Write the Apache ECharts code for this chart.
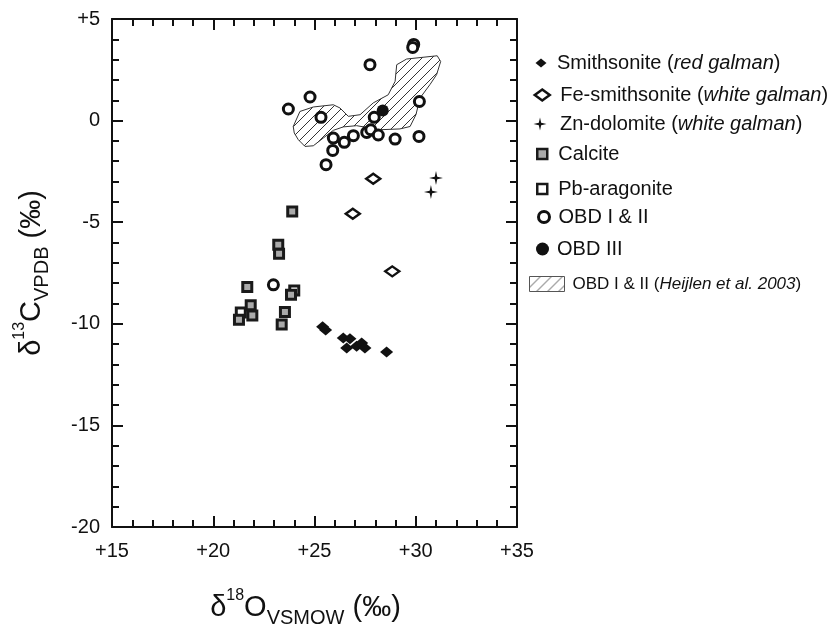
<!DOCTYPE html>
<html><head><meta charset="utf-8">
<script src="https://cdn.jsdelivr.net/npm/echarts@6/dist/echarts.min.js"></script>
<style>html,body{margin:0;padding:0;background:#fff}#c{width:835px;height:628px}</style>
</head><body><div id="c"></div>
<script>
// ---- data (δ18O VSMOW, δ13C VPDB) ----
const smithsonite = [[25.4,-10.15],[25.55,-10.3],[26.42,-10.7],[26.75,-10.73],[26.59,-11.19],[27.08,-11.11],[27.33,-10.94],[27.49,-11.19],[28.56,-11.39]];
const feSmithsonite = [[27.9,-2.86],[26.89,-4.58],[28.84,-7.42]];
const znDolomite = [[31.0,-2.82],[30.75,-3.51]];
const pbAragonite = [[24.0,-8.36],[21.36,-9.44]];
const calcite = [[23.9,-4.47],[23.21,-6.11],[23.25,-6.55],[21.68,-8.19],[21.85,-9.09],[21.93,-9.59],[21.27,-9.8],[23.54,-9.42],[23.38,-10.04],[23.84,-8.57]];
const obd12 = [[29.9,3.75],[29.85,3.6],[27.74,2.75],[24.78,1.16],[23.71,0.57],[25.32,0.16],[30.18,0.94],[27.95,0.16],[25.93,-0.86],[26.92,-0.74],[26.47,-1.07],[27.58,-0.58],[27.78,-0.45],[28.15,-0.71],[28.98,-0.91],[30.16,-0.78],[25.9,-1.47],[25.57,-2.17],[22.97,-8.08]];
const obd3 = [[28.37,0.5]];
const heijlenX = [23.95,24.28,24.94,25.93,26.26,26.67,27.25,27.9,28.64,28.98,29.06,29.55,31.06,31.23,31.03,30.7,30.21,30.01,29.72,29.22,28.23,27.08,26.42,25.93,25.43,24.94,24.53,24.2,24.0];
const heijlenY = [-0.29,0.45,0.67,0.78,0.62,0.21,0.29,0.87,1.27,1.93,2.75,3.03,3.19,2.91,2.26,1.77,1.11,0.29,-0.29,-0.41,-0.45,-0.25,-0.31,-0.48,-0.86,-1.24,-1.27,-0.94,-0.61];
const xTicks = {min:15, max:35, interval:5};
const yTicks = {min:-20, max:5, interval:5};

const FONT = 'Liberation Sans, Arial, Helvetica, sans-serif';
const INK = '#111';

function hatch(size, color){
  const c = document.createElement('canvas'); c.width = size; c.height = size;
  const g = c.getContext('2d'); g.strokeStyle = color; g.lineWidth = 1;
  g.beginPath();
  g.moveTo(0,size); g.lineTo(size,0);
  g.moveTo(-2,2); g.lineTo(2,-2);
  g.moveTo(size-2,size+2); g.lineTo(size+2,size-2);
  g.stroke();
  return c;
}
const hatchFill = {image: hatch(10,'#333'), repeat:'repeat'};
const hatchFillLegend = {image: hatch(11,'#555'), repeat:'repeat'};

const signFmt = v => (v > 0 ? '+' + v : String(v));
const tickLine = {color: INK, width: 2};

function axisBase(extra){
  return Object.assign({
    type:'value',
    axisLine:{show:true, onZero:false, lineStyle:tickLine},
    axisTick:{show:true, inside:true, length:11, lineStyle:tickLine},
    minorTick:{show:true, splitNumber:5, length:7, lineStyle:tickLine},
    splitLine:{show:false}, minorSplitLine:{show:false},
  }, extra);
}

const titleRich = {
  m:{fontSize:29, fontFamily:FONT, color:INK, lineHeight:40},
  sup:{fontSize:16, fontFamily:FONT, color:INK, lineHeight:16, verticalAlign:'top'},
  sub:{fontSize:20, fontFamily:FONT, color:INK, lineHeight:35, verticalAlign:'bottom'}
};

const legendText = {
  fontSize:20, fontFamily:FONT, color:INK, lineHeight:22,
  rich:{ i:{fontSize:20, fontFamily:FONT, color:INK, fontStyle:'italic', lineHeight:22} }
};
function leg(name, left, cy, w, h, pad, bw, extra){
  const item = Object.assign({name:name}, extra || {});
  const fs = (extra && extra.fs) || 20;
  const ts = JSON.parse(JSON.stringify(legendText));
  ts.fontSize = fs; ts.rich.i.fontSize = fs;
  ts.padding = [0,0,0,pad];
  delete item.fs;
  const o = {
    data:[item], orient:'vertical', left:left, top: cy - 11, padding:0,
    itemWidth:w, itemHeight:h, selectedMode:false, textStyle:ts,
    formatter: n => ({
      'Smithsonite':'Smithsonite ({i|red galman})',
      'Fe-smithsonite':'Fe-smithsonite ({i|white galman})',
      'Zn-dolomite':'Zn-dolomite ({i|white galman})',
      'OBD I & II (Heijlen et al. 2003)':'OBD I & II ({i|Heijlen et al. 2003})'
    }[n] || n)
  };
  if (bw != null) o.itemStyle = {borderWidth:bw};
  return o;
}

const chart = echarts.init(document.getElementById('c'), null, {renderer:'canvas'});
chart.setOption({
  animation:false,
  backgroundColor:'#fff',
  grid:{left:112, top:19, width:405, height:508, containLabel:false, outerBoundsMode:'none'},
  xAxis:[
    axisBase(Object.assign({}, xTicks, {position:'bottom',
      axisLabel:{formatter:signFmt, fontSize:20, fontFamily:FONT, color:INK, margin:14},
      name:'{m|δ}{sup|18}{m|O}{sub|VSMOW}{m| (‰)}', nameLocation:'middle', nameGap:61,
      nameTextStyle:{rich:titleRich, padding:[0,18,0,0]}})),
    axisBase(Object.assign({}, xTicks, {position:'top', axisLabel:{show:false}}))
  ],
  yAxis:[
    axisBase(Object.assign({}, yTicks, {position:'left',
      axisLabel:{formatter:signFmt, fontSize:20, fontFamily:FONT, color:INK, margin:12},
      name:'{m|δ}{sup|13}{m|C}{sub|VPDB}{m| (‰)}', nameLocation:'middle', nameGap:60, nameRotate:90,
      nameTextStyle:{rich:titleRich}})),
    axisBase(Object.assign({}, yTicks, {position:'right', axisLabel:{show:false}}))
  ],
  legend:[
    leg('Smithsonite', 535.5, 63, 11, 9, 5.5, null),
    leg('Fe-smithsonite', 533.5, 95, 15, 11, 5.5, 2.5),
    leg('Zn-dolomite', 533.5, 124, 13, 13, 8.5, null),
    leg('Calcite', 536, 154, 10, 10, 6, 2.5),
    leg('Pb-aragonite', 536, 189, 10, 10, 6, 2.5),
    leg('OBD I & II', 537, 217, 11, 11, 4, 3),
    leg('OBD III', 536, 249, 13, 13, 3, null),
    leg('OBD I & II (Heijlen et al. 2003)', 529, 284, 35, 15, 3, null,
        {icon:'rect', fs:17, itemStyle:{color:hatchFillLegend, borderColor:'#555', borderWidth:1}})
  ],
  series:[
    {type:'custom', name:'OBD I & II (Heijlen et al. 2003)', coordinateSystem:'cartesian2d', silent:true, z:1,
     data:[[heijlenX[0], heijlenY[0]]],
     itemStyle:{color:hatchFillLegend},
     renderItem:(params, api) => ({
       type:'polygon',
       shape:{points: heijlenX.map((x,i) => api.coord([x, heijlenY[i]]))},
       style:{fill:hatchFill, stroke:'#333', lineWidth:1}
     })},
    {type:'scatter', name:'Pb-aragonite', data:pbAragonite, symbol:'rect', symbolSize:9, z:3,
     itemStyle:{color:'#fff', borderColor:'#1a1a1a', borderWidth:3, opacity:1}},
    {type:'scatter', name:'Calcite', data:calcite, symbol:'rect', symbolSize:9, z:3,
     itemStyle:{color:'#aaa', borderColor:'#1a1a1a', borderWidth:3, opacity:1}},
    {type:'scatter', name:'Smithsonite', data:smithsonite, symbol:'diamond', symbolSize:[13,11], z:3,
     itemStyle:{color:'#111', opacity:1}},
    {type:'scatter', name:'Fe-smithsonite', data:feSmithsonite, symbol:'diamond', symbolSize:[14,10], z:3,
     itemStyle:{color:'#fff', borderColor:'#111', borderWidth:2.5, opacity:1}},
    {type:'scatter', name:'Zn-dolomite', data:znDolomite,
     symbol:'path://M0,-10 L1.8,-1.8 L10,0 L1.8,1.8 L0,10 L-1.8,1.8 L-10,0 L-1.8,-1.8 Z', symbolSize:14, z:3,
     itemStyle:{color:'#111', opacity:1}},
    {type:'scatter', name:'OBD I & II', data:obd12, symbol:'circle', symbolSize:10, z:4,
     itemStyle:{color:'#fff', borderColor:'#111', borderWidth:3, opacity:1}},
    {type:'scatter', name:'OBD III', data:obd3, symbol:'circle', symbolSize:12, z:4,
     itemStyle:{color:'#111', opacity:1}}
  ]
});
</script></body></html>
